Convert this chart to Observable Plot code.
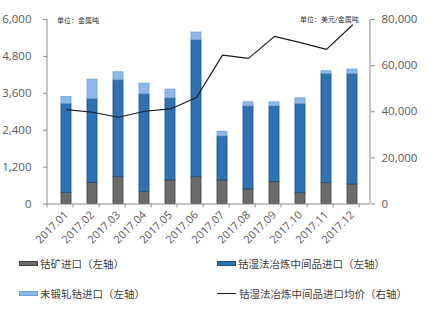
<!DOCTYPE html>
<html><head><meta charset="utf-8">
<script src="https://cdn.jsdelivr.net/npm/d3@7"></script>
<script src="https://cdn.jsdelivr.net/npm/@observablehq/plot@0.6"></script>
<style>
body{margin:0;background:#fff;font-family:"Open Sans","Noto Sans CJK SC",sans-serif;}
#wrap{position:relative;width:431px;height:324px;overflow:hidden;}
.lg{position:absolute;font-family:"Noto Sans CJK SC",sans-serif;font-size:10.5px;color:#404040;display:flex;align-items:center;white-space:nowrap;}
.sw{display:inline-block;width:19px;height:5px;margin-right:2px;box-sizing:border-box;}
.note{position:absolute;font-family:"Noto Sans CJK SC",sans-serif;font-size:7px;color:#333;white-space:nowrap;}
</style></head>
<body><div id="wrap"></div>
<script>
const months = ["2017.01","2017.02","2017.03","2017.04","2017.05","2017.06","2017.07","2017.08","2017.09","2017.10","2017.11","2017.12"];
const cobaltOre = [365,690,873,397,765,873,765,472,710,352,678,635];
const wetIntermediate = [2886,2724,3150,3170,2671,4453,1434,2704,2466,2899,3550,3593];
const unwrought = [228,632,260,348,284,250,153,130,130,185,88,143];
const avgPrice = [40960,39780,37610,40220,41220,46180,64570,63130,72700,70000,67040,77600];
const leftTicks = [0,1200,2400,3600,4800,6000];
const rightTicks = [0,20000,40000,60000,80000];
const leftMax = 6000, rightMax = 80000;
const ratio = leftMax / rightMax;

const seriesNames = ["钴矿进口（左轴）","钴湿法冶炼中间品进口（左轴）","未锻轧钴进口（左轴）","钴湿法冶炼中间品进口均价（右轴）"];
const fills = ["#6b6b6b","#2e72b6","#8db8e8"];
const strokes = ["#3f3f3f","#1f4e79","#6fa2d9"];

const rows = months.map((m,i)=>{
  const a = cobaltOre[i], b = a + wetIntermediate[i], c = b + unwrought[i];
  return {m, a0:0, a1:a, b0:a, b1:b, c0:b, c1:c, p: avgPrice[i]*ratio};
});

const fmt = d3.format(",");
const plot = Plot.plot({
  width: 431, height: 250,
  marginTop: 19, marginBottom: 46.5, marginLeft: 47, marginRight: 61,
  style: {fontFamily: "'Open Sans',sans-serif", fontSize: "11px", color: "#595959", background: "transparent"},
  x: {domain: months, paddingInner: 0.62, paddingOuter: 0.31, label: null},
  y: {domain: [0, leftMax], label: null},
  marks: [
    Plot.barY(rows, {x: "m", y1: "a0", y2: "a1", fill: fills[0], stroke: strokes[0], strokeWidth: 0.8}),
    Plot.barY(rows, {x: "m", y1: "b0", y2: "b1", fill: fills[1], stroke: strokes[1], strokeWidth: 0.8}),
    Plot.barY(rows, {x: "m", y1: "c0", y2: "c1", fill: fills[2], stroke: strokes[2], strokeWidth: 0.8}),
    Plot.lineY(rows, {x: "m", y: "p", stroke: "#1b1b2a", strokeWidth: 1.2}),
    Plot.axisY({anchor: "left", ticks: leftTicks, tickFormat: fmt, tickSize: 4, tickPadding: 12, stroke: "#8c8c8c", fontSize: 11.5, label: null}),
    Plot.axisY({anchor: "right", ticks: rightTicks.map(v=>v*ratio), tickFormat: d=>fmt(Math.round(d/ratio)), tickSize: 4, tickPadding: 7, stroke: "#8c8c8c", fontSize: 11.5, label: null}),
    Plot.axisX({tickRotate: -45, tickSize: 0, tickPadding: 9, fontSize: 11, label: null}),
    Plot.ruleY([0], {stroke: "#8c8c8c"})
  ]
});
const wrap = document.getElementById("wrap");
wrap.appendChild(plot);

// axis lines and category tick marks using the plot's own scales
const xs = plot.scale("x"), ys = plot.scale("y");
const y0 = ys.apply(0), yTop = ys.apply(leftMax);
const [xl, xr] = xs.range;
const svg = d3.select(plot);
const g = svg.append("g").attr("stroke","#8c8c8c").attr("stroke-width",1);
g.append("line").attr("x1",xl).attr("x2",xl).attr("y1",yTop).attr("y2",y0);
g.append("line").attr("x1",xr).attr("x2",xr).attr("y1",yTop).attr("y2",y0);
const step = xs.step;
for (let i = 0; i <= months.length; i++) {
  const x = xl + i*step;
  g.append("line").attr("x1",x).attr("x2",x).attr("y1",y0).attr("y2",y0+4);
}

// unit notes
const n1 = document.createElement("div"); n1.className="note"; n1.textContent="单位：金属吨";
n1.style.left="57px"; n1.style.top="15px"; wrap.appendChild(n1);
const n2 = document.createElement("div"); n2.className="note"; n2.textContent="单位：美元/金属吨";
n2.style.left="300px"; n2.style.top="14px"; wrap.appendChild(n2);

// legend
const pos = [[19,256],[217,256],[19,286],[217,286]];
seriesNames.forEach((name,i)=>{
  const d = document.createElement("div"); d.className="lg";
  d.style.left=pos[i][0]+"px"; d.style.top=pos[i][1]+"px";
  const s = document.createElement("span"); s.className="sw";
  if (i<3){ s.style.background=fills[i]; s.style.border="1px solid "+strokes[i]; }
  else { s.style.height="1px"; s.style.background="#1b1b2a"; s.style.marginRight="3px"; }
  d.appendChild(s);
  const t = document.createElement("span"); t.textContent=name; d.appendChild(t);
  wrap.appendChild(d);
});
</script>
</body></html>
